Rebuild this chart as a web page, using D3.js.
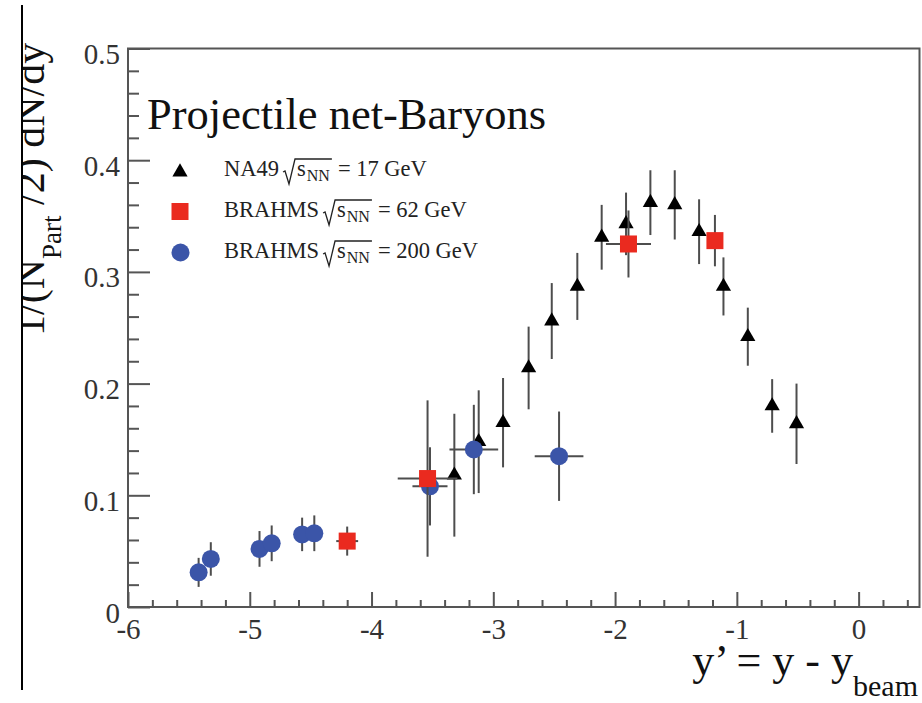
<!DOCTYPE html>
<html>
<head>
<meta charset="utf-8">
<script src="https://cdn.jsdelivr.net/npm/d3@7"></script>
<style>
  body { margin: 0; background: #fff; }
  svg { display: block; }
  svg text { font-family: "Liberation Serif", "Times New Roman", serif; }
</style>
</head>
<body>
<div id="chart"></div>
<script>
// NA49 sqrt(sNN) = 17 GeV
const na49X = [-3.32, -3.12, -2.92, -2.71, -2.52, -2.31, -2.11, -1.91, -1.71, -1.51, -1.31, -1.11, -0.91, -0.71, -0.51];
const na49Y = [0.118, 0.148, 0.165, 0.214, 0.256, 0.287, 0.331, 0.343, 0.362, 0.360, 0.336, 0.287, 0.242, 0.180, 0.164];
const na49YErr = [0.055, 0.046, 0.040, 0.037, 0.034, 0.030, 0.029, 0.028, 0.029, 0.031, 0.029, 0.026, 0.026, 0.024, 0.036];

// BRAHMS 62 GeV
const b62X = [-4.20, -3.54, -1.89, -1.18];
const b62Y = [0.059, 0.115, 0.325, 0.328];
const b62YErr = [0.013, 0.070, 0.030, 0.023];
const b62XErr = [0.09, 0.245, 0.185, 0];

// BRAHMS 200 GeV
const b200X = [-5.42, -5.32, -4.92, -4.82, -4.57, -4.47, -3.52, -3.16, -2.46];
const b200Y = [0.031, 0.043, 0.052, 0.057, 0.065, 0.066, 0.108, 0.141, 0.135];
const b200YErr = [0.013, 0.015, 0.016, 0.016, 0.015, 0.016, 0.035, 0.040, 0.040];
const b200XErr = [0, 0, 0, 0, 0, 0, 0.144, 0.2, 0.2];

const xTicks = [-6, -5, -4, -3, -2, -1, 0];
const yTicks = [0, 0.1, 0.2, 0.3, 0.4, 0.5];

const W = 922, H = 703;
const errColor = "#4d4d4d";
const serif = "'Liberation Serif', 'Times New Roman', serif";

const svg = d3.select("#chart").append("svg")
    .attr("width", W)
    .attr("height", H);

const x = d3.scaleLinear().domain([-6, 0.5]).range([128, 919.5]);
const y = d3.scaleLinear().domain([0, 0.5]).range([607, 48.5]);

// stray page edge line on the left
svg.append("line")
    .attr("x1", 22).attr("x2", 22)
    .attr("y1", 5).attr("y2", 690)
    .attr("stroke", "#000").attr("stroke-width", 2);

// frame
svg.append("rect")
    .attr("x", x(-6)).attr("y", y(0.5))
    .attr("width", x(0.5) - x(-6)).attr("height", y(0) - y(0.5))
    .attr("fill", "none").attr("stroke", "#555").attr("stroke-width", 2);

// y axis
const yMinor = d3.range(0, 26).map(i => i / 50).filter(v => Math.round(v * 50) % 5 !== 0);
svg.append("g").attr("transform", `translate(${x(-6)},0)`)
    .call(d3.axisLeft(y).tickValues(yMinor).tickSize(-11).tickFormat(""))
    .call(g => g.select(".domain").remove())
    .call(g => g.selectAll("line").attr("stroke", "#555").attr("stroke-width", 2));

svg.append("g").attr("transform", `translate(${x(-6)},0)`)
    .call(d3.axisLeft(y).tickValues(yTicks).tickSize(-22).tickPadding(8)
        .tickFormat(d => d === 0 ? "0" : d3.format(".1f")(d)))
    .attr("font-family", serif)
    .attr("font-size", 29)
    .call(g => g.select(".domain").remove())
    .call(g => g.selectAll("line").attr("stroke", "#555").attr("stroke-width", 2))
    .call(g => g.selectAll("text").attr("dy", "0.52em").attr("fill", "#333"));

// x axis
const xMinor = d3.range(-30, 3).map(i => i / 5).filter(v => Math.abs(v - Math.round(v)) > 1e-6);
svg.append("g").attr("transform", `translate(0,${y(0)})`)
    .call(d3.axisBottom(x).tickValues(xMinor).tickSize(-7).tickFormat(""))
    .call(g => g.select(".domain").remove())
    .call(g => g.selectAll("line").attr("stroke", "#555").attr("stroke-width", 2));

svg.append("g").attr("transform", `translate(0,${y(0)})`)
    .call(d3.axisBottom(x).tickValues(xTicks).tickSize(-15).tickPadding(11)
        .tickFormat(d => String(d)))
    .attr("font-family", serif)
    .attr("font-size", 29)
    .call(g => g.select(".domain").remove())
    .call(g => g.selectAll("line").attr("stroke", "#555").attr("stroke-width", 2))
    .call(g => g.selectAll("text").attr("fill", "#333"));

// axis titles
const xTitle = svg.append("text")
    .attr("x", 918).attr("y", 675)
    .attr("text-anchor", "end")
    .attr("fill", "#111")
    .style("font-size", "44px")
    .text("y\u2019 = y - y");
xTitle.append("tspan").attr("dy", 21).style("font-size", "30px").text("beam");

svg.append("clipPath").attr("id", "leftClip")
    .append("rect").attr("x", 23).attr("y", 0).attr("width", 200).attr("height", H);

const yTitle = svg.append("g").attr("clip-path", "url(#leftClip)")
    .append("text")
    .attr("transform", "translate(44,336) rotate(-90)")
    .attr("fill", "#111")
    .style("font-size", "42px")
    .text("1/(N");
yTitle.append("tspan").attr("dy", 17).style("font-size", "27px").text("Part");
yTitle.append("tspan").attr("dy", -17).text(" /2) dN/dy");

// title
svg.append("text")
    .attr("x", 147).attr("y", 129)
    .attr("fill", "#111")
    .style("font-size", "44.5px")
    .text("Projectile net-Baryons");

// error bars
function errorBars(xs, ys, yerr, xerr) {
    const g = svg.append("g").attr("stroke", errColor).attr("stroke-width", 2);
    xs.forEach((xv, i) => {
        g.append("line")
            .attr("x1", x(xv)).attr("x2", x(xv))
            .attr("y1", y(ys[i] - yerr[i])).attr("y2", y(ys[i] + yerr[i]));
        if (xerr && xerr[i] > 0) {
            g.append("line")
                .attr("x1", x(xv - xerr[i])).attr("x2", x(xv + xerr[i]))
                .attr("y1", y(ys[i])).attr("y2", y(ys[i]));
        }
    });
}

errorBars(na49X, na49Y, na49YErr, null);
svg.append("g").selectAll("path")
    .data(na49X)
    .join("path")
    .attr("transform", (d, i) => `translate(${x(d)},${y(na49Y[i])})`)
    .attr("d", d3.symbol(d3.symbolTriangle, 100)())
    .attr("fill", "#000");

errorBars(b200X, b200Y, b200YErr, b200XErr);
svg.append("g").selectAll("circle")
    .data(b200X)
    .join("circle")
    .attr("cx", d => x(d))
    .attr("cy", (d, i) => y(b200Y[i]))
    .attr("r", 9)
    .attr("fill", "#3b55a8");

errorBars(b62X, b62Y, b62YErr, b62XErr);
svg.append("g").selectAll("rect")
    .data(b62X)
    .join("rect")
    .attr("x", d => x(d) - 8.5)
    .attr("y", (d, i) => y(b62Y[i]) - 8.5)
    .attr("width", 17).attr("height", 17)
    .attr("fill", "#ea2a1f");

// legend
const legend = svg.append("g").attr("fill", "#222");
legend.append("path")
    .attr("transform", "translate(180,172)")
    .attr("d", d3.symbol(d3.symbolTriangle, 100)())
    .attr("fill", "#000");
legend.append("rect")
    .attr("x", 171.5).attr("y", 203).attr("width", 17).attr("height", 17)
    .attr("fill", "#ea2a1f");
legend.append("circle")
    .attr("cx", 180.5).attr("cy", 252.5).attr("r", 9)
    .attr("fill", "#3b55a8");

function legendEntry(yb, pre, post) {
    const t = legend.append("text").attr("x", 224).attr("y", yb)
        .style("font-size", "22.5px").text(pre);
    const xp = 224 + t.node().getComputedTextLength() + 4;
    const s = legend.append("text").attr("x", xp + 14).attr("y", yb)
        .style("font-size", "22.5px").text("s");
    const sw = s.node().getComputedTextLength();
    const nn = legend.append("text").attr("x", xp + 14 + sw + 1).attr("y", yb + 5)
        .style("font-size", "16px").text("NN");
    const xe = xp + 14 + sw + 1 + nn.node().getComputedTextLength() + 2;
    legend.append("path")
        .attr("d", `M${xp},${yb - 4} L${xp + 2},${yb - 5} L${xp + 6},${yb + 8} L${xp + 12},${yb - 17} L${xe},${yb - 17}`)
        .attr("fill", "none").attr("stroke", "#222").attr("stroke-width", 1.3);
    legend.append("text").attr("x", xe + 6).attr("y", yb)
        .style("font-size", "22.5px").text(post);
}
legendEntry(176, "NA49", "= 17 GeV");
legendEntry(217, "BRAHMS", "= 62 GeV");
legendEntry(258, "BRAHMS", "= 200 GeV");
</script>
</body>
</html>
